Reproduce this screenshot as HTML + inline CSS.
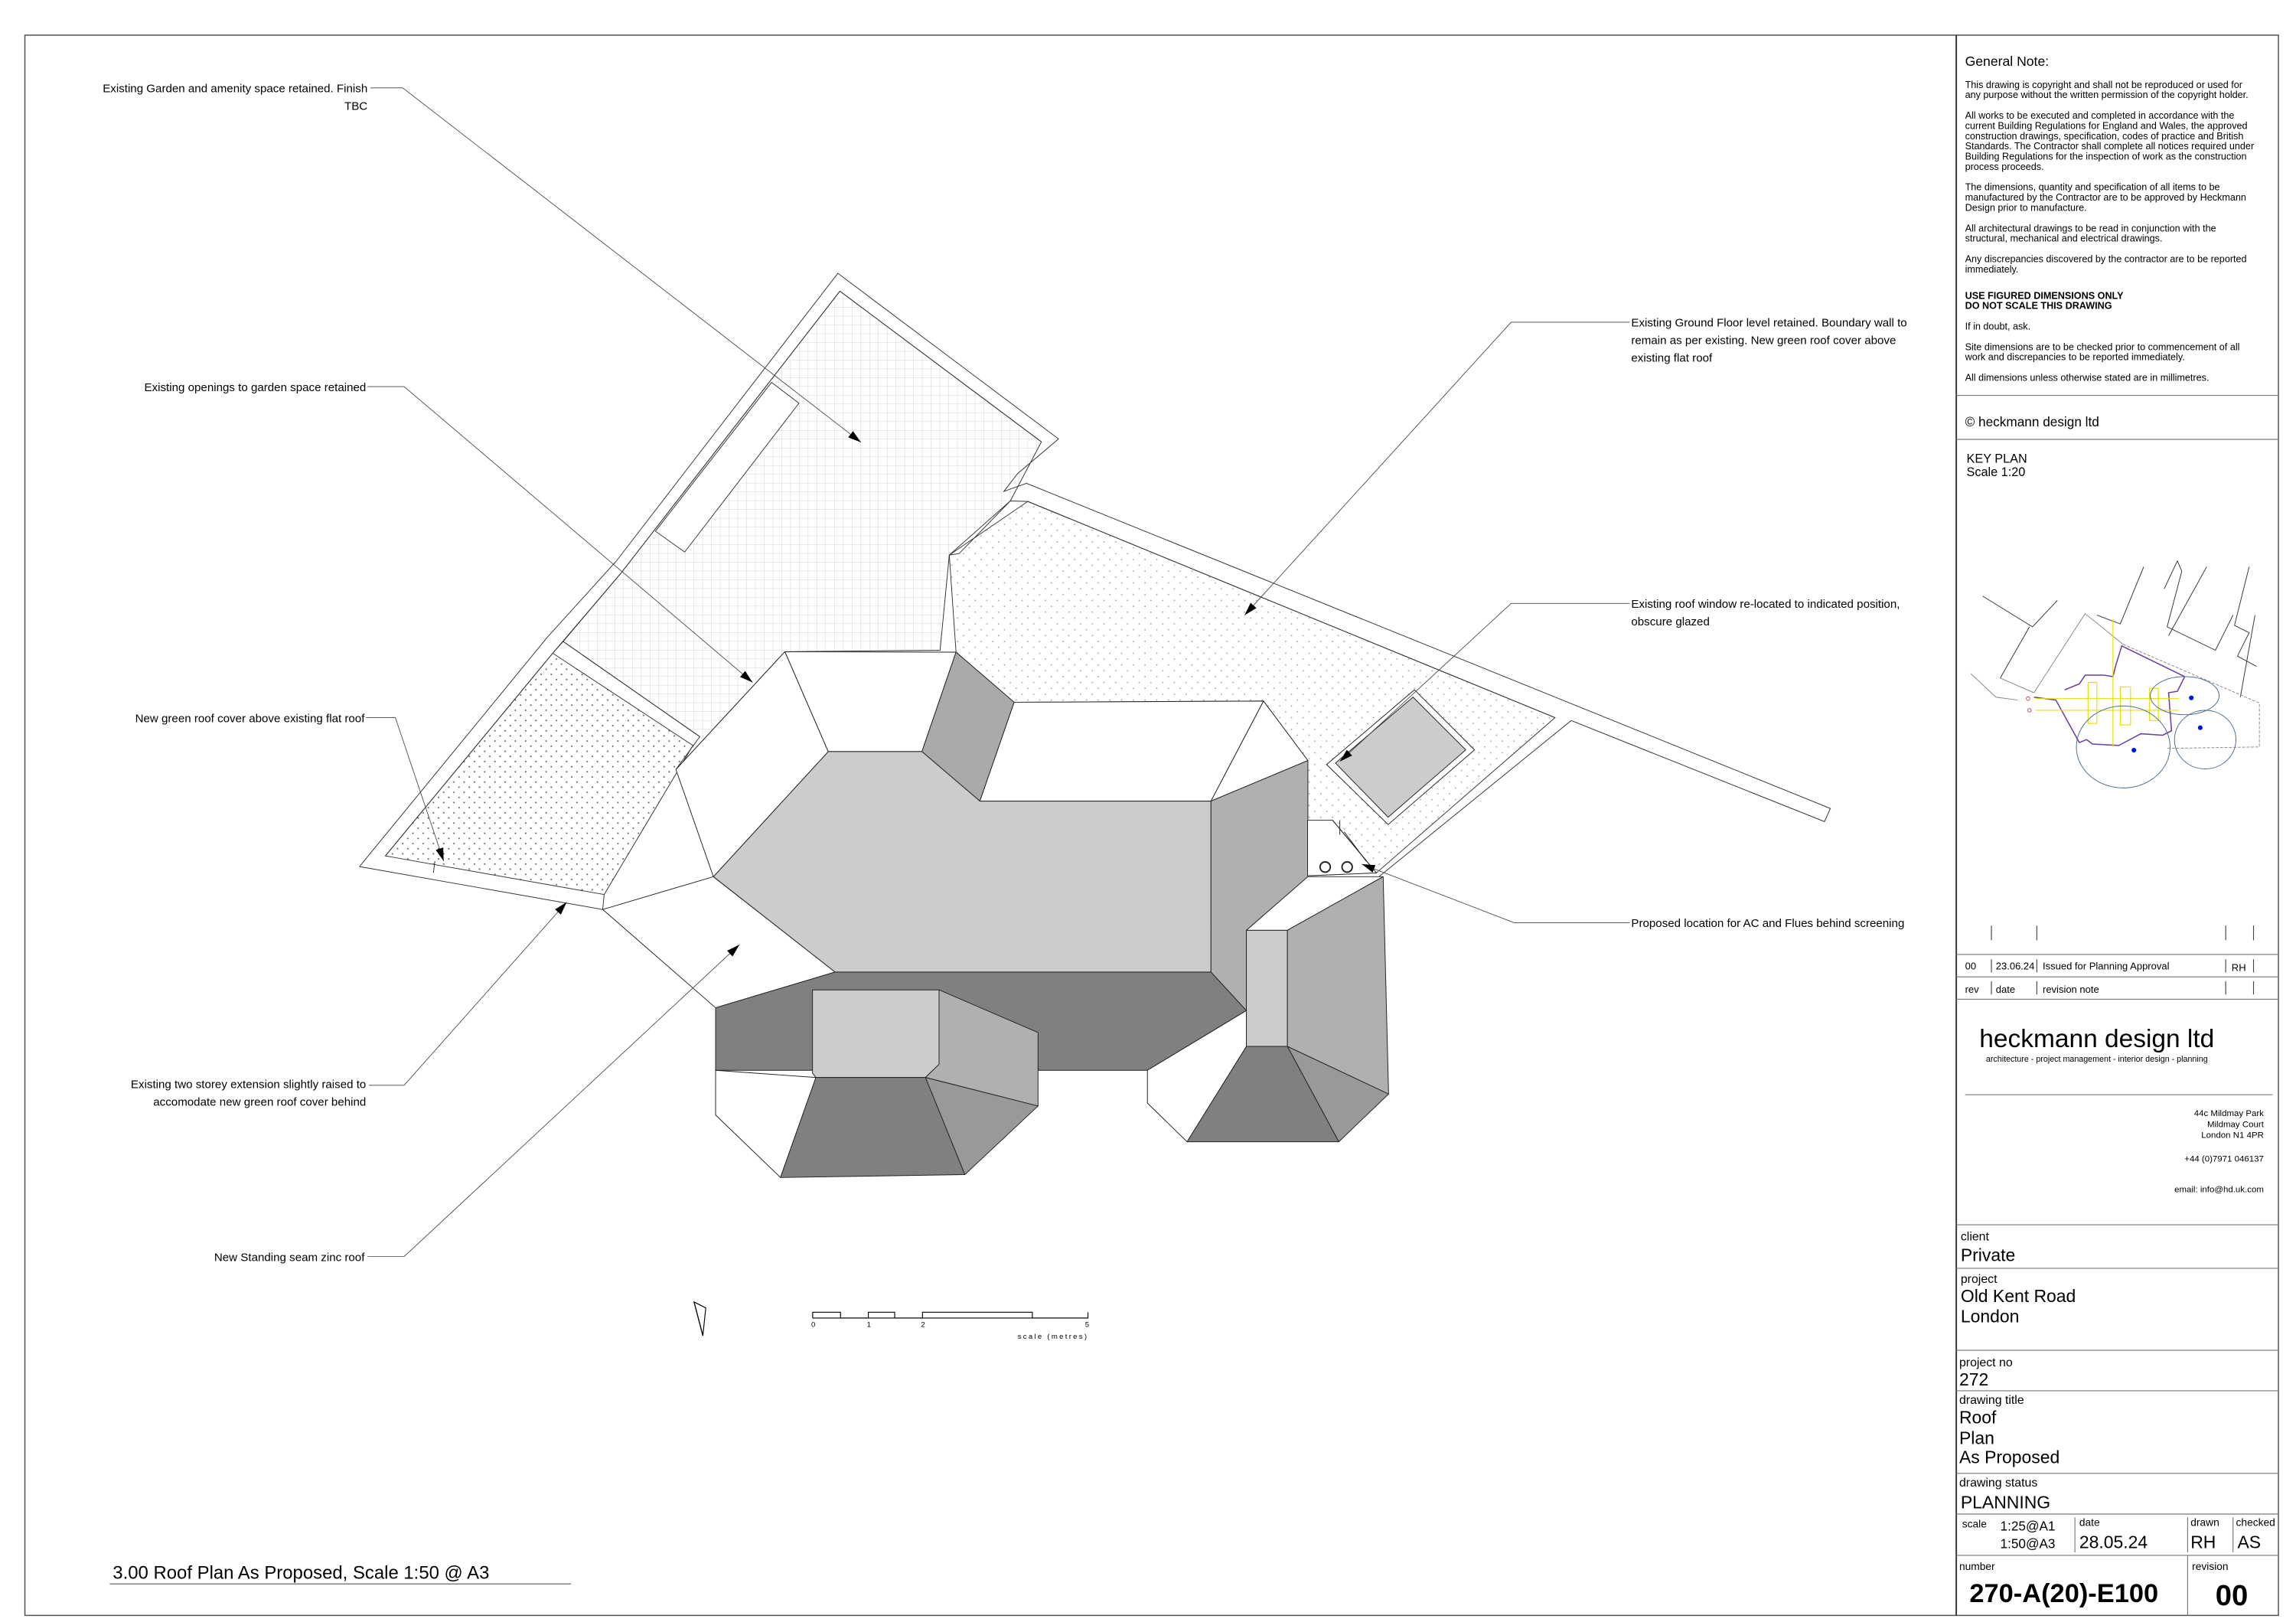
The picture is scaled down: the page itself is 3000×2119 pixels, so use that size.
<!DOCTYPE html>
<html><head><meta charset="utf-8"><style>
html,body{margin:0;padding:0;background:#fff;}
svg{display:block;}
text{font-family:"Liberation Sans",Arial,sans-serif;fill:#000;}
.n{font-size:6.6px;}
.l{font-size:7.9px;}
</style></head><body>
<svg width="3000" height="2119" viewBox="0 0 1568 1107.5" preserveAspectRatio="none" xmlns="http://www.w3.org/2000/svg">
<defs>
<pattern id="grid" width="6" height="6" patternUnits="userSpaceOnUse"><path d="M6 0V6M0 6H6" stroke="#c8c8c8" stroke-width="0.4" fill="none"/></pattern>
<pattern id="dots" width="7" height="7" patternUnits="userSpaceOnUse"><circle cx="2" cy="2" r="0.55" fill="#666"/><circle cx="5.5" cy="5.5" r="0.55" fill="#666"/></pattern>
<pattern id="dotsl" width="8" height="8" patternUnits="userSpaceOnUse"><circle cx="2" cy="2" r="0.5" fill="#aaa"/><circle cx="6" cy="6" r="0.5" fill="#aaa"/></pattern>
<marker id="ar" viewBox="0 0 10 10" refX="10" refY="5" markerWidth="9" markerHeight="9" orient="auto" markerUnits="userSpaceOnUse"><path d="M0 2L10 5L0 8z" fill="#000"/></marker>
</defs>
<rect x="0" y="0" width="1568" height="1107.5" fill="#fff"/>
<rect x="17" y="24" width="1539" height="1079" fill="none" stroke="#555" stroke-width="0.8"/>
<line x1="1336" y1="24" x2="1336" y2="1103" stroke="#333" stroke-width="1"/>

<g stroke="#333" stroke-width="0.5">
<polygon points="573.6,198.8 711.2,301.7 690,342 648.3,379 642,444 536,445 461.6,525.4 477.9,503 384.6,438 424.2,391.2" fill="url(#grid)"/>
<polygon points="377.5,446 473.2,509 412.6,610.8 263.2,584.4" fill="url(#dots)"/>
<polygon points="701.9,342.4 1062,490 940,596 893,598 893,519.3 862.9,478.7 692.6,479.5 652.9,445.3 648.3,379" fill="url(#dotsl)"/>
<polyline points="245.5,591.7 373.8,435.1 420.9,383.1 572.2,186.6 722.9,299.7 695,323.3 685.6,335.5 701,330 1250,552 1246,561 1073,492 940,600" fill="none"/>
<polyline points="263.2,584.4 377.5,446 424.2,391.2 573.6,198.8 711.2,301.7" fill="none"/>
<polyline points="245.5,591.7 411.6,621 412.6,610.8" fill="none"/>
<polyline points="690,342 701.9,342.4 1062,490" fill="none"/>
<polyline points="648.3,379 655,378 690,342" fill="none"/>
<line x1="384.6" y1="438" x2="477.9" y2="503"/>
<line x1="377.5" y1="446" x2="384.6" y2="438"/>
<line x1="297" y1="588" x2="296" y2="596"/>
<polygon points="526.9,261.1 545.6,275.3 467.6,376.9 447.6,362.7" fill="#fff"/>
</g>

<g stroke="#222" stroke-width="0.5" stroke-linejoin="round">
<polygon points="411.6,621 487.2,598.6 570.3,663.7 488.7,688.1" fill="#fff"/>
<polygon points="488.7,688.1 570.3,663.7 827,663.7 851.2,690 783.6,730.8 708.9,730.8 488.7,730.8" fill="#808080"/>
<polygon points="536,445 652.9,445.3 629.6,513.2 565.6,513.2" fill="#fff"/>
<polygon points="652.9,445.3 692.6,479.5 669.2,547 629.6,513.2" fill="#aaaaaa"/>
<polygon points="692.6,479.5 862.9,478.7 827,547 669.2,547" fill="#fff"/>
<polygon points="565.6,513.2 629.6,513.2 669.2,547 827,547 827,663.7 570.3,663.7 487.2,598.6" fill="#cccccc"/>
<polygon points="536,445 565.6,513.2 487.2,598.6 461.6,525.4" fill="#fff"/>
<polygon points="862.9,478.7 893.2,519.3 827,547" fill="#fff"/>
<polygon points="827,547 893.2,519.3 893.2,598.6 851.2,635.2 851.2,690 827,663.7" fill="#b0b0b0"/>
<polygon points="488.7,730.8 557.2,735.7 533,804 488.7,761.3" fill="#fff"/>
<polygon points="554.9,675.9 641.3,675.9 641.3,726.7 632,735.7 557.2,735.7 554.9,732.8" fill="#cccccc"/>
<polygon points="641.3,675.9 708.9,705 708.9,755.2 632,735.7 641.3,726.7" fill="#b0b0b0"/>
<polygon points="632,735.7 708.9,755.2 658.9,802" fill="#999"/>
<polygon points="557.2,735.7 632,735.7 658.9,802 533,804" fill="#808080"/>
<polygon points="851.2,635.2 893.2,598.6 944.6,598.6 879.2,635.2" fill="#fff"/>
<polygon points="783.6,730.8 851.2,690 851.2,714.5 810.7,779.6 783.6,753.2" fill="#fff"/>
<polygon points="851.2,635.2 879.2,635.2 879.2,714.5 851.2,714.5" fill="#cccccc"/>
<polygon points="879.2,635.2 944.6,598.6 948.3,747 879.2,714.5" fill="#b0b0b0"/>
<polygon points="879.2,714.5 948.3,747 914.3,779.6" fill="#999"/>
<polygon points="851.2,714.5 879.2,714.5 914.3,779.6 810.7,779.6" fill="#808080"/>
<polygon points="893,560 910,560 940,596 893,598" fill="#fff"/>
<line x1="910" y1="560" x2="935" y2="590"/>
<line x1="915" y1="560" x2="915" y2="570"/>
<line x1="918" y1="568" x2="933" y2="588"/>
<circle cx="905" cy="592" r="3.5" fill="none" stroke-width="1"/>
<circle cx="920" cy="592" r="3.5" fill="none" stroke-width="1"/>
<polygon points="906,522 966,471 1007,512 948,563" fill="#fff"/>
<polygon points="912,521 965,476 1001,512 948,558" fill="#cccccc"/>
</g>

<g stroke="#444" stroke-width="0.45" fill="none">
<polyline points="253,60 275,60 588,302" marker-end="url(#ar)"/>
<polyline points="251,264 276,264 514,466" marker-end="url(#ar)"/>
<polyline points="250,490 270,490 303,588" marker-end="url(#ar)"/>
<polyline points="252,741 276,741 387,616" marker-end="url(#ar)"/>
<polyline points="251,858 276,858 505,645" marker-end="url(#ar)"/>
<polyline points="1113,220 1032,220 850,420" marker-end="url(#ar)"/>
<polyline points="1113,412 1032,412 915,520" marker-end="url(#ar)"/>
<polyline points="1113,630 1034,630 930,590" marker-end="url(#ar)"/>
</g>
<g class="l">
<text x="251" y="63" text-anchor="end">Existing Garden and amenity space retained. Finish</text>
<text x="251" y="75" text-anchor="end">TBC</text>
<text x="250" y="267" text-anchor="end">Existing openings to garden space retained</text>
<text x="249" y="493" text-anchor="end">New green roof cover above existing flat roof</text>
<text x="250" y="743" text-anchor="end">Existing two storey extension slightly raised to</text>
<text x="250" y="755" text-anchor="end">accomodate new green roof cover behind</text>
<text x="249" y="861" text-anchor="end">New Standing seam zinc roof</text>
<text x="1114" y="223">Existing Ground Floor level retained. Boundary wall to</text>
<text x="1114" y="235">remain as per existing. New green roof cover above</text>
<text x="1114" y="247">existing flat roof</text>
<text x="1114" y="415">Existing roof window re-located to indicated position,</text>
<text x="1114" y="427">obscure glazed</text>
<text x="1114" y="633">Proposed location for AC and Flues behind screening</text>
</g>

<g stroke="#000" stroke-width="0.6" fill="none">
<polygon points="474,889 482,893 480,912" fill="#fff"/>
<line x1="474" y1="889" x2="480" y2="912"/>
<polyline points="555,900 555,896 574,896 574,900 593,900 593,896 611,896 611,900 630,900 630,896 705,896 705,900 743,900 743,896"/>
<line x1="555" y1="900" x2="743" y2="900"/>
</g>
<g font-size="5" font-family="Liberation Sans,sans-serif">
<text x="554" y="906">0</text><text x="592" y="906">1</text><text x="629" y="906">2</text><text x="741" y="906">5</text>
<text x="695" y="914" letter-spacing="1.2">scale (metres)</text>
</g>

<text x="77" y="1078" font-size="12.5">3.00  Roof Plan As Proposed, Scale 1:50 @ A3</text>
<line x1="75" y1="1081.5" x2="390" y2="1081.5" stroke="#666" stroke-width="0.6"/>

<g stroke="#777" stroke-width="0.6">
<line x1="1336" y1="270" x2="1556" y2="270"/>
<line x1="1336" y1="300" x2="1556" y2="300"/>
<line x1="1336" y1="651.7" x2="1556" y2="651.7"/>
<line x1="1336" y1="667" x2="1556" y2="667"/>
<line x1="1336" y1="682.3" x2="1556" y2="682.3"/>
<line x1="1342" y1="747.5" x2="1552" y2="747.5"/>
<line x1="1336" y1="836.3" x2="1556" y2="836.3"/>
<line x1="1336" y1="866" x2="1556" y2="866"/>
<line x1="1336" y1="922" x2="1556" y2="922"/>
<line x1="1336" y1="949.6" x2="1556" y2="949.6"/>
<line x1="1336" y1="1006" x2="1556" y2="1006"/>
<line x1="1336" y1="1033.8" x2="1556" y2="1033.8"/>
<line x1="1336" y1="1062" x2="1556" y2="1062"/>
<line x1="1494" y1="1062" x2="1494" y2="1103"/>
<line x1="1417" y1="1036" x2="1417" y2="1060"/>
<line x1="1494" y1="1036" x2="1494" y2="1060"/>
<line x1="1525" y1="1036" x2="1525" y2="1060"/>
<g stroke="#444">
<line x1="1360" y1="632" x2="1360" y2="642"/><line x1="1391" y1="632" x2="1391" y2="642"/><line x1="1520" y1="632" x2="1520" y2="642"/><line x1="1539" y1="632" x2="1539" y2="642"/>
<line x1="1360" y1="655" x2="1360" y2="664"/><line x1="1391" y1="655" x2="1391" y2="664"/><line x1="1520" y1="655" x2="1520" y2="664"/><line x1="1539" y1="655" x2="1539" y2="664"/>
<line x1="1360" y1="670" x2="1360" y2="679"/><line x1="1391" y1="670" x2="1391" y2="679"/><line x1="1520" y1="670" x2="1520" y2="679"/><line x1="1539" y1="670" x2="1539" y2="679"/>
</g>
</g>
<text x="1342" y="45" font-size="9.2">General Note:</text>
<g class="n">
<text x="1342" y="60">This drawing is copyright and shall not be reproduced or used for</text>
<text x="1342" y="67">any purpose without the written permission of the copyright holder.</text>
<text x="1342" y="81">All works to be executed and completed in accordance with the</text>
<text x="1342" y="88">current Building Regulations for England and Wales, the approved</text>
<text x="1342" y="95">construction drawings, specification, codes of practice and British</text>
<text x="1342" y="102">Standards. The Contractor shall complete all notices required under</text>
<text x="1342" y="109">Building Regulations for the inspection of work as the construction</text>
<text x="1342" y="116">process proceeds.</text>
<text x="1342" y="130">The dimensions, quantity and specification of all items to be</text>
<text x="1342" y="137">manufactured by the Contractor are to be approved by Heckmann</text>
<text x="1342" y="144">Design prior to manufacture.</text>
<text x="1342" y="158">All architectural drawings to be read in conjunction with the</text>
<text x="1342" y="165">structural, mechanical and electrical drawings.</text>
<text x="1342" y="179">Any discrepancies discovered by the contractor are to be reported</text>
<text x="1342" y="186">immediately.</text>
<text x="1342" y="204" font-weight="bold">USE FIGURED DIMENSIONS ONLY</text>
<text x="1342" y="211" font-weight="bold">DO NOT SCALE THIS DRAWING</text>
<text x="1342" y="225">If in doubt, ask.</text>
<text x="1342" y="239">Site dimensions are to be checked prior to commencement of all</text>
<text x="1342" y="246">work and discrepancies to be reported immediately.</text>
<text x="1342" y="260">All dimensions unless otherwise stated are in millimetres.</text>
</g>
<text x="1342" y="291" font-size="9">© heckmann design ltd</text>
<text x="1343" y="316" font-size="8.5">KEY PLAN</text>
<text x="1343" y="325" font-size="8.5">Scale 1:20</text>

<g fill="none" stroke-width="0.5">
<g stroke="#333">
<polyline points="1354,407 1388,428 1405,410"/>
<polyline points="1366,463 1386,428"/>
<polyline points="1464,387 1448,426 1432,420"/>
<polyline points="1478,402 1487,383 1490,390 1480,428 1513,444 1525,420"/>
<polyline points="1507,387 1481,434"/>
<polyline points="1536,387 1526,427 1536,432 1528,448 1541,455"/>
<polyline points="1540,420 1530,476"/>
</g>
<g stroke="#888">
<polyline points="1366,463 1389,473 1424,419 1450,440"/>
<polyline points="1346,460 1363,476 1378,478"/>
<polyline points="1450,440 1543,480 1543,510 1480,511" stroke-dasharray="2,1"/>
</g>
<g stroke="#6a3fa0" stroke-width="0.8">
<polyline points="1389,476 1404,478 1420,507 1425,505 1429,508 1447,509 1462,501 1477,502 1483,499 1481,473 1487,472 1492,462 1449,441 1445,454 1443,462 1437,461 1424,461 1420,467 1410,471"/>
</g>
<g stroke="#e6e000" stroke-width="0.6">
<line x1="1443" y1="423" x2="1443" y2="510"/>
<line x1="1390" y1="477" x2="1488" y2="477"/>
<line x1="1390" y1="485" x2="1488" y2="485"/>
<rect x="1426" y="466" width="6" height="28"/><rect x="1448" y="469" width="7" height="26"/><rect x="1468" y="470" width="6" height="22"/>
</g>
<g stroke="#4a6a8a" stroke-width="0.5">
<ellipse cx="1450" cy="510" rx="32" ry="28"/>
<ellipse cx="1492" cy="475" rx="23.5" ry="13"/>
<ellipse cx="1506" cy="505" rx="21" ry="20"/>
</g>
<circle cx="1496.5" cy="476.5" r="1.6" fill="#0010e0" stroke="none"/>
<circle cx="1502.6" cy="496.9" r="1.6" fill="#0010e0" stroke="none"/>
<circle cx="1457.3" cy="512.2" r="1.6" fill="#0010e0" stroke="none"/>
<circle cx="1385" cy="477" r="1.2" stroke="#c44"/>
<circle cx="1386" cy="485" r="1.2" stroke="#c44"/>
</g>

<g font-size="6.8">
<text x="1342" y="662">00</text><text x="1363" y="662">23.06.24</text><text x="1395" y="662">Issued for Planning Approval</text><text x="1524" y="663">RH</text>
<text x="1342" y="678">rev</text><text x="1363" y="678">date</text><text x="1395" y="678">revision note</text>
</g>
<text x="1432" y="715" font-size="17.5" text-anchor="middle">heckmann design ltd</text>
<text x="1432" y="725" font-size="5.6" text-anchor="middle">architecture - project management - interior design - planning</text>
<g font-size="6" text-anchor="end">
<text x="1546" y="762">44c Mildmay Park</text>
<text x="1546" y="769.5">Mildmay Court</text>
<text x="1546" y="777">London N1 4PR</text>
<text x="1546" y="793">+44 (0)7971 046137</text>
<text x="1546" y="814">email: info@hd.uk.com</text>
</g>
<g font-size="8.3">
<text x="1339" y="847">client</text>
<text x="1339" y="876">project</text>
<text x="1338" y="933">project no</text>
<text x="1338" y="958.5">drawing title</text>
<text x="1338" y="1015">drawing status</text>
</g>
<g font-size="7.2">
<text x="1340" y="1043">scale</text>
<text x="1420" y="1042">date</text>
<text x="1496" y="1042">drawn</text>
<text x="1527" y="1042">checked</text>
<text x="1338" y="1072">number</text>
<text x="1497" y="1072">revision</text>
</g>
<g font-size="12">
<text x="1339" y="861">Private</text>
<text x="1339" y="889">Old Kent Road</text>
<text x="1339" y="903">London</text>
<text x="1338" y="946">272</text>
<text x="1338" y="972">Roof</text>
<text x="1338" y="986">Plan</text>
<text x="1338" y="999">As Proposed</text>
<text x="1339" y="1030">PLANNING</text>
<text x="1420" y="1057">28.05.24</text>
<text x="1496" y="1057">RH</text>
<text x="1528" y="1057">AS</text>
</g>
<text x="1366" y="1045" font-size="9">1:25@A1</text>
<text x="1366" y="1057" font-size="9">1:50@A3</text>
<text x="1345" y="1094" font-size="18" font-weight="bold">270-A(20)-E100</text>
<text x="1513" y="1096" font-size="20" font-weight="bold">00</text>
</svg>
</body></html>
